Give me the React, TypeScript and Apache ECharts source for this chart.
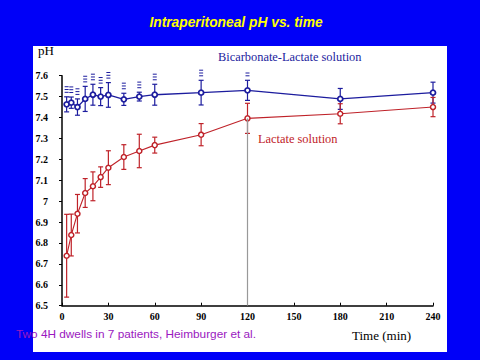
import React, { useEffect, useRef } from "react";
import * as echarts from "echarts";

const times = [3, 6, 10, 15, 20, 25, 30, 40, 50, 60, 90, 120, 180, 240];
const bicarbPH = [7.463, 7.471, 7.45, 7.489, 7.509, 7.5, 7.508, 7.487, 7.5, 7.509, 7.519, 7.53, 7.489, 7.519];
const bicarbErr = [0.036, 0.027, 0.039, 0.06, 0.05, 0.043, 0.059, 0.029, 0.021, 0.05, 0.059, 0.048, 0.05, 0.05];
const bicarbSig = [3, 3, 3, 3, 3, 3, 3, 3, 3, 3, 3, 2, 0, 0];
const lactatePH = [6.739, 6.838, 6.94, 7.039, 7.071, 7.115, 7.16, 7.211, 7.24, 7.268, 7.318, 7.396, 7.418, 7.45];
const lactateErr = [0.198, 0.1, 0.092, 0.069, 0.069, 0.049, 0.081, 0.059, 0.08, 0.038, 0.053, 0.072, 0.048, 0.046];
const xTicks = { min: 0, max: 240, interval: 30 };
const yTicks = { min: 6.5, max: 7.6, interval: 0.1 };

const BLUE = "#1c1c9e";
const RED = "#bf2229";

function errorSeries(vals: number[], errs: number[], sig: number[] | null, color: string) {
  return {
    type: "custom",
    silent: true,
    z: 3,
    data: times.map((t, i) => [t, vals[i], errs[i], sig ? sig[i] : 0]),
    renderItem: (params: any, api: any) => {
      const t = api.value(0);
      const v = api.value(1);
      const e = api.value(2);
      const n = api.value(3);
      const top = api.coord([t, v + e]);
      const bot = api.coord([t, v - e]);
      const cw = 2.5;
      const children: any[] = [
        { type: "line", shape: { x1: top[0], y1: top[1], x2: bot[0], y2: bot[1] }, style: { stroke: color, lineWidth: 1.2 } },
        { type: "line", shape: { x1: top[0] - cw, y1: top[1], x2: top[0] + cw, y2: top[1] }, style: { stroke: color, lineWidth: 1.2 } },
        { type: "line", shape: { x1: bot[0] - cw, y1: bot[1], x2: bot[0] + cw, y2: bot[1] }, style: { stroke: color, lineWidth: 1.2 } },
      ];
      for (let k = 0; k < n; k++) {
        const y = top[1] - 4.5 - k * 2.8;
        children.push({ type: "line", shape: { x1: top[0] - 2, y1: y, x2: top[0] + 2, y2: y }, style: { stroke: color, lineWidth: 1 } });
      }
      return { type: "group", children };
    },
  };
}

export default function App() {
  const ref = useRef<HTMLDivElement>(null);
  useEffect(() => {
    const chart = echarts.init(ref.current!, null, { renderer: "svg" });
    chart.setOption({
      animation: false,
      backgroundColor: "#0000f8",
      graphic: [
        { type: "rect", z: -10, shape: { x: 33, y: 46, width: 414, height: 306 }, style: { fill: "#ffffff" } },
        {
          type: "text",
          x: 236,
          y: 14,
          scaleX: 0.92,
          style: {
            text: "Intraperitoneal pH vs. time",
            fill: "#ffff00",
            font: "italic bold 15px 'Liberation Sans'",
            textAlign: "center",
            textShadowColor: "#000000",
            textShadowOffsetX: 1,
            textShadowOffsetY: 1,
            textShadowBlur: 0,
          },
        },
        { type: "text", x: 38, y: 44, style: { text: "pH", fill: "#000", font: "13px 'Liberation Serif'" } },
        { type: "text", x: 352, y: 329, style: { text: "Time (min)", fill: "#000", font: "13px 'Liberation Serif'" } },
        { type: "text", x: 218, y: 51, style: { text: "Bicarbonate-Lactate solution", fill: BLUE, font: "12.4px 'Liberation Serif'" } },
        { type: "text", x: 258, y: 133, style: { text: "Lactate solution", fill: RED, font: "12.4px 'Liberation Serif'" } },
        { type: "text", x: 16, y: 328, style: { text: "Two 4H dwells in 7 patients, Heimburger et al.", fill: "#9a18c0", font: "11.8px 'Liberation Sans'" } },
      ],
      grid: { left: 62, right: 47, top: 75.7, bottom: 54.3 },
      xAxis: {
        type: "value",
        min: xTicks.min,
        max: xTicks.max,
        interval: xTicks.interval,
        splitLine: { show: false },
        axisLine: { lineStyle: { color: "#000", width: 1.5 } },
        axisTick: { inside: true, length: 3, lineStyle: { color: "#000" } },
        axisLabel: { color: "#000", fontFamily: "Liberation Serif", fontWeight: "bold", fontSize: 10, margin: 6 },
      },
      yAxis: {
        type: "value",
        min: yTicks.min,
        max: yTicks.max,
        interval: yTicks.interval,
        splitLine: { show: false },
        axisLine: { show: true, lineStyle: { color: "#000", width: 1.5 } },
        axisTick: { show: true, length: 3, lineStyle: { color: "#000" } },
        axisLabel: {
          color: "#000",
          fontFamily: "Liberation Serif",
          fontWeight: "bold",
          fontSize: 10,
          margin: 14,
          formatter: (v: number) => String(Math.round(v * 10) / 10),
        },
      },
      series: [
        errorSeries(bicarbPH, bicarbErr, bicarbSig, BLUE),
        errorSeries(lactatePH, lactateErr, null, RED),
        {
          type: "line",
          name: "Bicarbonate-Lactate solution",
          data: times.map((t, i) => [t, bicarbPH[i]]),
          z: 4,
          symbol: "circle",
          symbolSize: 5,
          lineStyle: { color: BLUE, width: 1.3 },
          itemStyle: { color: "#ffffff", borderColor: BLUE, borderWidth: 1.8 },
        },
        {
          type: "line",
          name: "Lactate solution",
          data: times.map((t, i) => [t, lactatePH[i]]),
          z: 4,
          symbol: "circle",
          symbolSize: 5,
          lineStyle: { color: RED, width: 1.1 },
          itemStyle: { color: "#ffffff", borderColor: RED, borderWidth: 1.5 },
          markLine: {
            silent: true,
            symbol: "none",
            label: { show: false },
            lineStyle: { color: "#999999", type: "solid", width: 1.2 },
            data: [[{ coord: [120, lactatePH[11]] }, { coord: [120, yTicks.min] }]],
          },
        },
      ],
    });
    return () => chart.dispose();
  }, []);
  return <div ref={ref} style={{ position: "fixed", left: 0, top: 0, width: 480, height: 360 }} />;
}
